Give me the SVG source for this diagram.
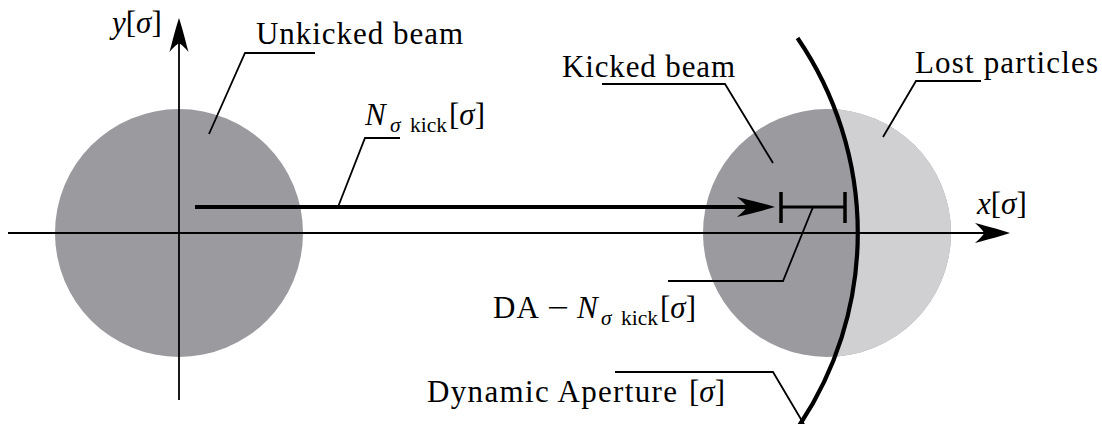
<svg xmlns="http://www.w3.org/2000/svg" xmlns:xlink="http://www.w3.org/1999/xlink" width="1102" height="424" viewBox="0 0 1102 424">
<style>
text{font-family:"Liberation Serif","Times New Roman",serif;font-size:31px;fill:#000}
.it{font-style:italic}
.sub{font-size:21.5px}
.lead{fill:none;stroke:#000;stroke-width:1.8;stroke-linejoin:miter}
.axis{fill:none;stroke:#000;stroke-width:1.8}
.dark{fill:#9a9a9f}
.light{fill:#d0d0d3}
</style>
<defs>
<path id="ah" d="M0,0 C-12,-4 -28,-8 -35,-10 Q-27,-3 -26,0 Q-27,3 -35,10 C-28,8 -12,4 0,0 Z" fill="#000"/>
<clipPath id="outside">
<path clip-rule="evenodd" d="M600,0 H1102 V424 H600 Z M166.5,233 a345.5,345.5 0 1,0 691,0 a345.5,345.5 0 1,0 -691,0 Z"/>
</clipPath>
</defs>

<g id="unkicked-beam">
<circle class="dark" cx="179" cy="233" r="124"/>
</g>

<g id="kicked-beam">
<circle class="dark" cx="827" cy="233" r="124"/>
</g>

<g id="lost-particles">
<circle class="light" cx="827" cy="233" r="124" clip-path="url(#outside)"/>
</g>

<g id="axes">
<line class="axis" x1="8" y1="233" x2="990" y2="233"/>
<use xlink:href="#ah" href="#ah" transform="translate(1010,233)"/>
<line class="axis" x1="179" y1="400" x2="179" y2="38"/>
<use xlink:href="#ah" href="#ah" transform="translate(179,18) rotate(-90) scale(0.97,0.95)"/>
<text x="112" y="33"><tspan class="it">y</tspan>[<tspan class="it">σ</tspan>]</text>
<text x="977" y="214"><tspan class="it">x</tspan>[<tspan class="it">σ</tspan>]</text>
</g>

<g id="dynamic-aperture">
<path d="M797.5,38 A345.5,345.5 0 0,1 797.5,428" fill="none" stroke="#000" stroke-width="4.2"/>
</g>

<g id="da-bar">
<line x1="781" y1="207" x2="845" y2="207" stroke="#000" stroke-width="3"/>
<line x1="781" y1="192" x2="781" y2="223" stroke="#000" stroke-width="3.5"/>
<line x1="845" y1="192" x2="845" y2="223" stroke="#000" stroke-width="3.5"/>
</g>

<g id="connectors">
<line x1="195" y1="207" x2="752" y2="207" stroke="#000" stroke-width="4"/>
<use xlink:href="#ah" href="#ah" transform="translate(775,207) scale(1.09,1)"/>
<polyline class="lead" points="315,53 245,53 209,134"/>
<polyline class="lead" points="400,138 365,138 338,207"/>
<polyline class="lead" points="602,84 725,84 773,163"/>
<polyline class="lead" points="981,81 916,81 883,137"/>
<polyline class="lead" points="668,281 783,281 813,207"/>
<polyline class="lead" points="615,372 773,372 805,426"/>
</g>

<g id="labels">
<text x="256" y="44" textLength="207" lengthAdjust="spacing">Unkicked beam</text>
<text x="562" y="77" textLength="173" lengthAdjust="spacing">Kicked beam</text>
<text x="915" y="73" textLength="183" lengthAdjust="spacing">Lost particles</text>
<g id="label-kick">
<text x="365" y="125" class="it">N</text>
<text x="390" y="132" class="sub it">σ</text>
<text x="410" y="132" class="sub">kick</text>
<text x="449" y="125">[<tspan class="it">σ</tspan>]</text>
</g>
<g id="label-da">
<text x="493" y="318" textLength="46" lengthAdjust="spacing">DA</text>
<text x="547" y="318" textLength="22" lengthAdjust="spacingAndGlyphs">−</text>
<text x="577" y="318" class="it">N</text>
<text x="601" y="325" class="sub it">σ</text>
<text x="621" y="325" class="sub">kick</text>
<text x="660" y="318">[<tspan class="it">σ</tspan>]</text>
</g>
<g id="label-aperture">
<text x="427" y="402" textLength="250" lengthAdjust="spacing">Dynamic Aperture</text>
<text x="689" y="402">[<tspan class="it">σ</tspan>]</text>
</g>
</g>
</svg>
